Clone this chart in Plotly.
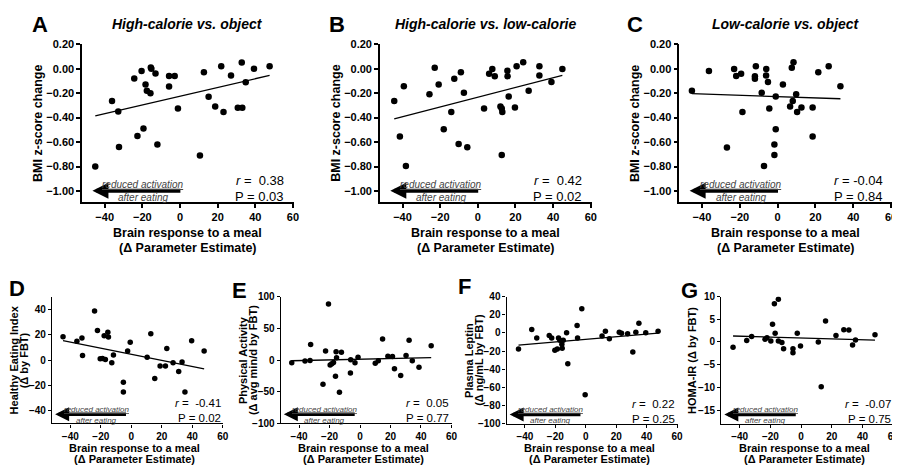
import plotly.graph_objects as go

FONT = "Arial, Liberation Sans, sans-serif"
W, H = 900, 465

# ---- data ----
a_x = [-45.0, -36.1, -32.8, -32.4, -24.3, -22.6, -20.4, -19.4, -18.3, -17.6, -15.7, -15.5, -15.2,
       -13.0, -12.0, -5.8, -5.8, -2.8, -1.1, 10.6, 12.7, 15.2, 18.7, 21.9, 23.1, 27.1, 30.7,
       32.8, 33.1, 34.9, 39.3, 47.6]
a_y = [-0.80, -0.265, -0.35, -0.64, -0.08, -0.55, -0.02, -0.49, -0.13, -0.18, -0.20, 0.01, 0.00,
       -0.04, -0.62, -0.145, -0.06, -0.06, -0.325, -0.71, -0.03, -0.23, -0.31, 0.02, -0.355,
       -0.055, -0.32, 0.05, -0.32, -0.11, 0.00, 0.02]

b_x = [-44.4, -41.4, -39.3, -38.2, -25.7, -22.9, -20.8, -18.1, -14.1, -12.5, -10.2, -9.0, -7.4,
       -5.6, 3.3, 6.0, 7.7, 9.0, 12.0, 12.7, 13.0, 12.7, 15.7, 15.8, 16.4, 19.7, 20.6, 27.0,
       24.1, 32.7, 32.7, 39.1, 44.9]
b_y = [-0.265, -0.555, -0.143, -0.796, -0.21, 0.008, -0.13, -0.495, -0.355, -0.082, -0.616,
       -0.029, -0.196, -0.643, -0.325, -0.042, -0.003, -0.061, -0.31, -0.325, -0.355, -0.706,
       -0.016, -0.061, -0.228, -0.317, 0.019, -0.18, 0.053, 0.019, -0.055, -0.108, -0.003]

c_x = [-45.3, -36.3, -26.8, -23.0, -21.9, -19.3, -18.6, -11.5, -12.0, -12.0, -8.4, -7.2, -6.0,
       -6.1, -5.1, -4.4, -1.7, -1.7, -1.0, -1.0, 2.8, 6.6, 7.5, 8.4, 8.0, 9.8, 10.3, 12.6,
       18.5, 18.5, 21.5, 27.0, 33.2]
c_y = [-0.18, -0.02, -0.645, -0.003, -0.06, -0.042, -0.355, 0.019, -0.061, -0.082, -0.196,
       -0.796, -0.003, -0.055, -0.108, -0.325, -0.706, -0.62, -0.495, -0.228, -0.13, -0.31,
       0.008, 0.053, -0.265, -0.21, -0.355, -0.317, -0.317, -0.555, -0.029, 0.019, -0.143]

d_x = [-44.8, -35.7, -32.4, -32.0, -24.1, -22.2, -20.4, -18.9, -17.8, -17.0, -15.4, -15.0, -12.8,
       -11.7, -5.2, -5.2, -2.4, -0.7, 10.4, 12.8, 15.4, 18.9, 22.4, 23.3, 27.4, 31.1, 33.3,
       35.2, 39.6, 47.8]
d_y = [18.5, 14.9, 17.4, 3.6, 38.7, 23.3, 1.0, 1.3, 19.2, 0.5, 22.1, 18.2, -2.1, 4.1, -17.4,
       -25.1, 7.2, 14.1, 2.3, 20.8, -14.6, -4.6, -4.6, 9.2, -2.1, -9.0, -1.5, -25.1, 15.4, 7.2]

e_x = [-44.8, -36.1, -32.8, -32.4, -24.3, -22.6, -20.7, -19.6, -18.5, -17.4, -16.1, -15.7, -15.4,
       -13.5, -12.2, -6.3, -6.1, -3.3, -1.3, 10.0, 12.0, 14.8, 18.3, 21.3, 22.6, 26.7, 30.2,
       32.2, 34.3, 38.7, 46.7]
e_y = [-4.1, -1.5, -0.5, 24.6, -37.9, 14.4, 88.7, -7.7, -5.6, -3.6, -25.6, 13.3, 3.6, -50.8,
       12.3, -20.5, 0.5, -4.1, 4.6, -5.1, -1.0, 33.3, 6.2, 5.6, -13.8, -24.1, 7.2, 31.3, -1.0,
       -11.3, 22.6]

f_x = [-44.2, -35.5, -32.2, -24.0, -22.4, -20.3, -18.7, -17.9, -17.0, -15.7, -15.5, -14.8, -12.6,
       -11.8, -5.7, -5.4, -2.6, -0.4, 10.7, 12.9, 15.5, 22.0, 23.5, 27.5, 30.9, 32.9, 34.9,
       39.4, 47.5]
f_y = [-17.9, 3.6, -5.7, -2.9, -5.7, -19.3, -17.9, -5.7, -8.2, -12.5, -17.1, -8.2, 0.0, -33.9,
       8.2, -5.7, 26.4, -68.2, -3.6, 1.8, -6.4, 0.7, -0.4, -1.1, -21.1, 0.7, 10.7, 0.0, 1.8]

g_x = [-44.3, -35.4, -32.2, -23.5, -22.2, -19.7, -18.6, -17.4, -16.9, -14.8, -14.8, -12.5, -11.4,
       -5.3, -5.3, -2.5, -0.4, 11.2, 13.1, 15.9, 22.7, 27.8, 31.1, 33.5, 35.4, 48.1]
g_y = [-1.2, 0.3, 1.2, 0.6, 0.9, 0.2, 3.9, 8.4, 1.9, 0.2, 9.4, -0.1, -1.5, -1.5, -2.4, 1.9, -0.9,
       0.0, -9.9, 4.6, 1.4, 2.7, 2.6, -0.7, 0.4, 1.6]

# regression lines (end points)
fit_x = [[-45.0, 47.6], [-44.4, 44.9], [-45.3, 33.2], [-44.8, 47.8], [-44.8, 46.7],
         [-44.2, 47.5], [-44.3, 48.1]]
fit_y = [[-0.385, -0.055], [-0.41, -0.055], [-0.204, -0.246], [15.4, -6.9], [-1.0, 4.1],
         [-13.6, -0.4], [1.3, 0.4]]

letters = ["A", "B", "C", "D", "E", "F", "G"]
titles = ["High-calorie vs. object", "High-calorie vs. low-calorie", "Low-calorie vs. object"]
y_titles = [["BMI z-score change"], ["BMI z-score change"], ["BMI z-score change"],
            ["Healthy Eating Index", "(\u0394 by FBT)"],
            ["Physical Activity", "(\u0394 avg min/d by FBT)"],
            ["Plasma Leptin", "(\u0394 ng/mL by FBT)"],
            ["HOMA-IR (\u0394 by FBT)"]]
r_text = ["\u00a0\u00a00.38", "\u00a0\u00a00.42", "\u00a0-0.04", "\u00a0\u00a0-0.41",
          "\u00a0\u00a00.05", "\u00a0\u00a00.22", "\u00a0\u00a0-0.07"]
p_text = ["0.03", "0.02", "0.84", "0.02", "0.77", "0.25", "0.75"]
x_ticks = [-40, -20, 0, 20, 40, 60]
y_ticks = [[-1.0, -0.8, -0.6, -0.4, -0.2, 0.0, 0.2]] * 3 + [
    [-40, -20, 0, 20, 40],
    [-100, -50, 0, 50, 100],
    [-100, -80, -60, -40, -20, 0, 20, 40],
    [-15, -10, -5, 0, 5, 10]]


def main():
    xs = [a_x, b_x, c_x, d_x, e_x, f_x, g_x]
    ys = [a_y, b_y, c_y, d_y, e_y, f_y, g_y]
    fig = go.Figure()
    layout = dict(width=W, height=H, margin=dict(l=0, r=0, t=0, b=0),
                  paper_bgcolor="white", plot_bgcolor="white", showlegend=False,
                  font=dict(family=FONT, color="black"))
    annotations = []
    for i, geo in enumerate(panel_geometry()):
        n = "" if i == 0 else str(i + 1)
        xr, yr = "x" + n, "y" + n
        top = i < 3
        fig.add_trace(go.Scatter(x=xs[i], y=ys[i], mode="markers", xaxis=xr, yaxis=yr,
                                 marker=dict(color="black", size=6.5 if top else 5.5)))
        fig.add_trace(go.Scatter(x=fit_x[i], y=fit_y[i], mode="lines", xaxis=xr, yaxis=yr,
                                 line=dict(color="black", width=1.3)))
        layout["xaxis" + n] = axis_style(geo, "x", yr, top)
        layout["yaxis" + n] = axis_style(geo, "y", xr, top, i)
        annotations += panel_annotations(i, geo, xr, yr, top)
    layout["annotations"] = annotations
    fig.update_layout(**layout)
    fig.write_html("out.html")


def panel_geometry():
    """Pixel boxes of the plot areas plus axis ranges."""
    return [
        dict(x0=74.5, x1=287.5, y0=31, y1=193, yr=[-1.09, 0.2], let=(32, 11)),
        dict(x0=374, x1=587, y0=31, y1=193, yr=[-1.09, 0.2], let=(331, 11)),
        dict(x0=675, x1=889, y0=31, y1=193, yr=[-1.09, 0.2], let=(631, 11)),
        dict(x0=44.3, x1=216.7, y0=290.3, y1=420.3, yr=[-50, 50], let=(9, 282)),
        dict(x0=274.3, x1=446.7, y0=290.3, y1=420.3, yr=[-100, 100], let=(233, 284)),
        dict(x0=501.4, x1=673.6, y0=290, y1=420.5, yr=[-100, 40], let=(459, 280)),
        dict(x0=717.2, x1=891, y0=290, y1=420.5, yr=[-18, 10], let=(685, 284)),
    ]


def axis_style(geo, kind, anchor, top, i=0):
    base = dict(showline=True, linecolor="black", linewidth=1.5 if top else 1.3,
                ticks="outside", ticklen=4 if top else 3, tickwidth=1.5 if top else 1.2,
                tickcolor="black", showgrid=False, zeroline=False, anchor=anchor,
                tickfont=dict(family=FONT, size=11 if top else 10, color="black",
                              weight="bold"))
    if kind == "x":
        base.update(domain=[geo["x0"] / W, geo["x1"] / W], range=[-52, 60.5],
                    tickvals=x_ticks)
    else:
        base.update(domain=[1 - geo["y1"] / H, 1 - geo["y0"] / H], range=geo["yr"],
                    tickvals=y_ticks[i], tickformat=".2f" if top else "d")
    return base


def panel_annotations(i, geo, xr, yr, top):
    ann = []
    cx = (geo["x0"] + geo["x1"]) / 2
    cy = (geo["y0"] + geo["y1"]) / 2

    def paper(text, px, py, size, **kw):
        d = dict(text=text, x=px / W, y=1 - py / H, xref="paper", yref="paper",
                 showarrow=False, xanchor="center", yanchor="middle",
                 font=dict(family=FONT, size=size, color="black"))
        d.update(kw)
        return d

    ann.append(paper("<b>%s</b>" % letters[i], geo["let"][0], geo["let"][1], 22))
    if top:
        ann.append(paper("<b><i>%s</i></b>" % titles[i], cx, 10, 14))
    # x title
    if top:
        ann.append(paper("<b>Brain response to a meal</b>", cx, 225, 12.5))
        ann.append(paper("<b>(\u0394 Parameter Estimate)</b>", cx, 240, 12.5))
    else:
        ann.append(paper("<b>Brain response to a meal</b>", cx - 3, 445.5, 11))
        ann.append(paper("<b>(\u0394 Parameter Estimate)</b>", cx - 3, 457, 11))
    # y title
    lines = y_titles[i]
    if top:
        ann.append(paper("<b>%s</b>" % lines[0], geo["x0"] - 44.5, cy, 12.5, textangle=-90))
    elif len(lines) == 2:
        ann.append(paper("<b>%s</b>" % lines[0], geo["x0"] - 38, cy, 11, textangle=-90))
        ann.append(paper("<b>%s</b>" % lines[1], geo["x0"] - 28, cy, 11, textangle=-90))
    else:
        ann.append(paper("<b>%s</b>" % lines[0], geo["x0"] - 29.5, cy, 11, textangle=-90))

    # stats
    sx = 0.965 if top else 0.995
    ry, py = (0.135, 0.035) if top else (0.158, 0.04)
    ssize = 13 if top else 11.5
    for txt, yy in (("<i>r</i> =" + r_text[i], ry), ("P = " + p_text[i], py)):
        ann.append(dict(text=txt, x=sx, y=yy, xref=xr + " domain", yref=yr + " domain",
                        xanchor="right", yanchor="middle", showarrow=False,
                        font=dict(family=FONT, size=ssize, color="black")))

    # "reduced activation" arrow
    head, tail, mid = (-46.5, 1.0, -19.6) if top else (-50.0, -2.5, -23.0)
    ay = 0.072
    ann.append(dict(text="", x=head, y=ay, ax=tail, ay=ay, xref=xr, yref=yr + " domain",
                    axref=xr, ayref=yr + " domain", showarrow=True, arrowhead=2,
                    arrowsize=0.8, arrowwidth=4 if top else 3.5, arrowcolor="black",
                    standoff=0))
    tsize = 10 if top else 8
    gray = "#444444"
    ann.append(dict(text="<i><u>reduced activation</u></i>", x=mid, y=0.112, xref=xr,
                    yref=yr + " domain", showarrow=False, xanchor="center", yanchor="middle",
                    font=dict(family=FONT, size=tsize, color=gray)))
    ann.append(dict(text="<i>after eating</i>", x=mid, y=0.026, xref=xr,
                    yref=yr + " domain", showarrow=False, xanchor="center", yanchor="middle",
                    font=dict(family=FONT, size=tsize, color=gray)))
    return ann


if __name__ == "__main__":
    main()
